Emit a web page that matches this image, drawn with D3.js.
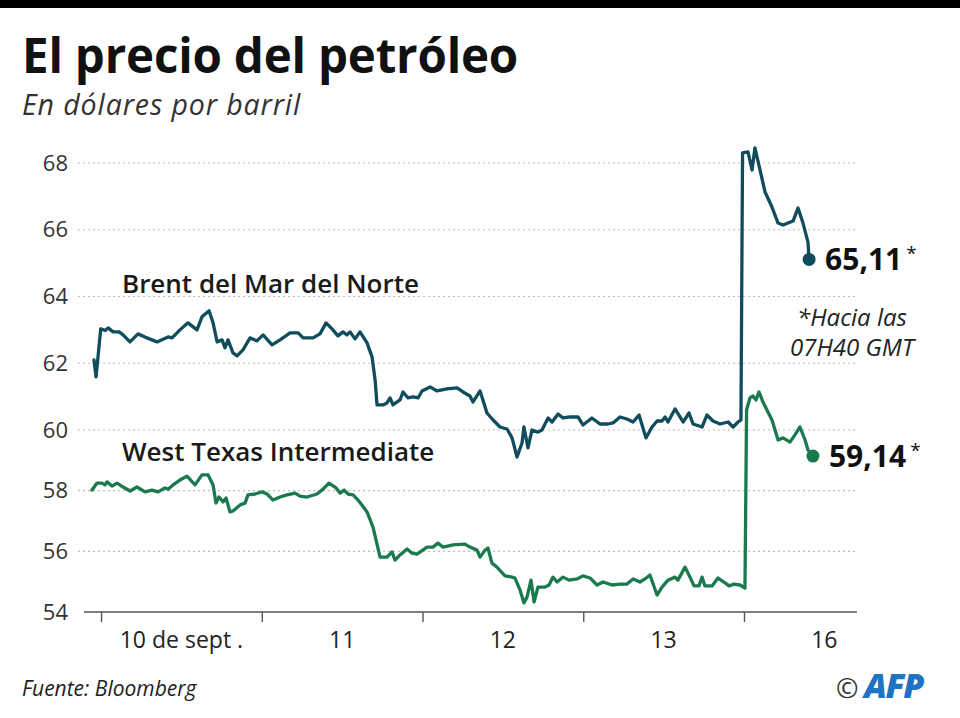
<!DOCTYPE html>
<html>
<head>
<meta charset="utf-8">
<script src="https://cdn.jsdelivr.net/npm/d3@7"></script>
<style>
  html, body { margin: 0; padding: 0; background: #fff; }
  svg { display: block; }
</style>
</head>
<body>
<svg id="chart" width="960" height="718"></svg>
<script>
// ---- Data (x in trading days from 10 Sept 00h; 16 Sept follows 13 Sept) ----
const dayTicks = [0, 1, 2, 3, 4];
const dayLabelPos = [0.5, 1.5, 2.5, 3.5, 4.5];
const dayLabels = ["10 de sept .", "11", "12", "13", "16"];
const yTicks = [54, 56, 58, 60, 62, 64, 66, 68];

const brentT = [-0.044,-0.031,-0.002,0.025,0.044,0.075,0.112,0.137,0.180,0.230,0.286,0.348,0.417,0.442,0.491,0.541,0.597,0.628,0.672,0.697,0.722,0.753,0.771,0.790,0.821,0.846,0.883,0.927,0.970,1.008,1.064,1.114,1.176,1.226,1.257,1.319,1.362,1.400,1.437,1.474,1.505,1.530,1.549,1.580,1.611,1.655,1.686,1.705,1.717,1.754,1.779,1.798,1.816,1.860,1.879,1.910,1.941,1.972,1.997,2.047,2.090,2.152,2.215,2.252,2.295,2.314,2.358,2.401,2.439,2.482,2.526,2.557,2.588,2.619,2.631,2.656,2.681,2.718,2.743,2.781,2.806,2.843,2.874,2.918,2.967,2.998,3.054,3.104,3.154,3.185,3.229,3.272,3.310,3.347,3.390,3.428,3.459,3.490,3.509,3.527,3.571,3.602,3.621,3.658,3.683,3.739,3.770,3.807,3.851,3.901,3.932,3.963,3.981,3.991,4.025,4.050,4.068,4.100,4.131,4.174,4.212,4.243,4.274,4.305,4.336,4.367,4.398,4.405];
const brentV = [62.10,61.59,63.03,62.98,63.06,62.94,62.94,62.85,62.64,62.88,62.76,62.64,62.79,62.76,63.00,63.21,63.00,63.39,63.57,63.21,62.64,62.70,62.46,62.70,62.31,62.22,62.40,62.76,62.67,62.85,62.55,62.70,62.91,62.91,62.76,62.76,62.88,63.21,63.03,62.82,62.94,62.85,62.94,62.73,62.94,62.61,62.19,61.50,60.75,60.75,60.81,60.96,60.75,60.90,61.14,60.96,60.99,60.96,61.17,61.29,61.17,61.23,61.26,61.14,61.02,60.84,61.17,60.51,60.30,60.09,60.03,59.74,59.11,59.57,60.09,59.41,60.00,59.93,60.00,60.36,60.24,60.48,60.36,60.39,60.39,60.15,60.36,60.18,60.18,60.21,60.39,60.33,60.24,60.45,59.74,60.09,60.27,60.27,60.39,60.24,60.63,60.39,60.24,60.51,60.18,60.09,60.45,60.27,60.18,60.24,60.09,60.24,60.30,68.30,68.33,67.79,68.45,67.79,67.13,66.68,66.20,66.14,66.20,66.26,66.65,66.20,65.63,65.11];

const wtiT = [-0.056,-0.025,0.006,0.025,0.037,0.068,0.100,0.137,0.180,0.224,0.274,0.317,0.355,0.398,0.417,0.448,0.491,0.535,0.585,0.628,0.666,0.697,0.715,0.734,0.759,0.778,0.802,0.821,0.865,0.896,0.914,0.958,1.002,1.033,1.070,1.114,1.157,1.207,1.238,1.281,1.344,1.381,1.418,1.462,1.487,1.512,1.537,1.568,1.599,1.655,1.692,1.736,1.779,1.810,1.829,1.860,1.904,1.935,1.966,2.028,2.065,2.096,2.128,2.190,2.264,2.295,2.339,2.358,2.389,2.407,2.432,2.463,2.513,2.557,2.575,2.607,2.631,2.650,2.675,2.694,2.718,2.762,2.787,2.812,2.837,2.874,2.911,2.961,2.998,3.042,3.086,3.123,3.179,3.229,3.272,3.310,3.353,3.384,3.415,3.459,3.490,3.527,3.571,3.589,3.633,3.664,3.689,3.720,3.739,3.757,3.801,3.838,3.882,3.907,3.938,3.975,4.006,4.016,4.037,4.056,4.075,4.093,4.118,4.174,4.212,4.243,4.286,4.317,4.348,4.380,4.398,4.429];
const wtiV = [58.02,58.25,58.25,58.19,58.29,58.15,58.25,58.12,57.99,58.12,57.96,58.02,57.96,58.09,58.05,58.19,58.35,58.48,58.19,58.52,58.52,58.19,57.59,57.79,57.63,57.76,57.30,57.33,57.53,57.59,57.86,57.89,57.96,57.89,57.69,57.79,57.86,57.92,57.82,57.79,57.89,58.05,58.25,58.09,57.92,58.02,57.89,57.86,57.69,57.30,56.80,55.81,55.81,55.98,55.71,55.88,56.08,55.94,55.91,56.14,56.14,56.27,56.14,56.21,56.24,56.14,56.04,55.81,56.04,56.11,55.61,55.48,55.19,55.15,55.12,54.72,54.30,54.49,55.05,54.33,54.82,54.82,54.89,55.15,54.99,55.15,55.05,55.09,55.19,55.12,54.89,54.99,54.89,54.92,54.92,55.09,54.99,55.09,55.22,54.56,54.82,55.05,55.15,55.05,55.48,55.15,54.86,54.86,55.15,54.86,54.86,55.12,54.96,54.86,54.92,54.89,54.79,60.60,60.96,61.02,60.90,61.14,60.84,60.30,59.67,59.74,59.60,59.84,60.09,59.67,59.34,59.14];

const seriesNames = ["Brent del Mar del Norte", "West Texas Intermediate"];
const lastLabels = ["65,11", "59,14"];

// ---- Drawing ----
const svg = d3.select("#chart");
const BRENT = "#0f4c5c", WTI = "#1a7a4e";
const FONT = "'Open Sans', 'Noto Sans', sans-serif";

const x = d3.scaleLinear().domain([-0.106, 4.703]).range([84, 857]);
const y = d3.scaleLinear().domain([54, 60, 68]).range([612, 430, 163]);

// top black band
svg.append("rect").attr("x", 0).attr("y", 0).attr("width", 960).attr("height", 8).attr("fill", "#000");

// title & subtitle
svg.append("text").attr("x", 22).attr("y", 73)
  .attr("font-family", FONT).attr("font-weight", 700).attr("font-size", 47.5)
  .attr("fill", "#111").attr("letter-spacing", -0.2).text("El precio del petróleo");
svg.append("text").attr("x", 22).attr("y", 115)
  .attr("font-family", FONT).attr("font-style", "italic").attr("font-size", 28.5)
  .attr("fill", "#333").attr("letter-spacing", 0.9).text("En dólares por barril");

// gridlines
svg.append("g").selectAll("line").data(yTicks.filter(d => d > 54)).join("line")
  .attr("x1", 78).attr("x2", 855)
  .attr("y1", d => y(d)).attr("y2", d => y(d))
  .attr("stroke", "#bdbdbd").attr("stroke-width", 1.2).attr("stroke-dasharray", "2,3");

// y axis labels
const yAxis = d3.axisLeft(y).tickValues(yTicks).tickSize(0).tickPadding(0).tickFormat(d3.format("d"));
const gy = svg.append("g").attr("transform", "translate(68,0)").call(yAxis);
gy.select(".domain").remove();
gy.selectAll("text").attr("font-family", FONT).attr("font-size", 22).attr("fill", "#333");

// x axis
const xAxis = d3.axisBottom(x).tickValues(dayTicks).tickSize(10).tickFormat("");
const gx = svg.append("g").attr("transform", "translate(0,612)").call(xAxis);
gx.select(".domain").attr("stroke", "#555").attr("stroke-width", 1.6).attr("d", `M${x.range()[0]},0H${x.range()[1]}`);
gx.selectAll(".tick line").attr("stroke", "#555").attr("stroke-width", 1.4);
svg.append("g").selectAll("text").data(dayLabels).join("text")
  .attr("x", (d, i) => x(dayLabelPos[i])).attr("y", 648)
  .attr("text-anchor", "middle").attr("font-family", FONT).attr("font-size", 23)
  .attr("fill", "#222").text(d => d);

// lines
const line = d3.line().x(d => x(d[0])).y(d => y(d[1]));
const brent = brentT.map((t, i) => [t, brentV[i]]);
const wti = wtiT.map((t, i) => [t, wtiV[i]]);
[[brent, BRENT], [wti, WTI]].forEach(([data, col]) => {
  svg.append("path").datum(data).attr("d", line)
    .attr("fill", "none").attr("stroke", col).attr("stroke-width", 3.3)
    .attr("stroke-linejoin", "round").attr("stroke-linecap", "round");
  const last = data[data.length - 1];
  svg.append("circle").attr("cx", x(last[0])).attr("cy", y(last[1])).attr("r", 6.5).attr("fill", col);
});

// series labels
svg.append("text").attr("x", 122).attr("y", 293)
  .attr("font-family", FONT).attr("font-weight", 600).attr("font-size", 26)
  .attr("fill", "#1a1a1a").text(seriesNames[0]);
svg.append("text").attr("x", 122).attr("y", 461)
  .attr("font-family", FONT).attr("font-weight", 600).attr("font-size", 26)
  .attr("fill", "#1a1a1a").text(seriesNames[1]);

// end labels
const endVals = [brentV[brentV.length - 1], wtiV[wtiV.length - 1]];
const endT = [brentT[brentT.length - 1], wtiT[wtiT.length - 1]];
endVals.forEach((v, i) => {
  const t = svg.append("text").attr("x", x(endT[i]) + 16).attr("y", y(v) + 11)
    .attr("font-family", FONT).attr("font-weight", 700).attr("font-size", 30).attr("fill", "#111");
  t.append("tspan").text(lastLabels[i]);
  t.append("tspan").attr("dx", 4).attr("dy", -10).attr("font-size", 19).attr("font-weight", 400).text("*");
});

// note
svg.append("text").attr("x", 852).attr("y", 326).attr("text-anchor", "middle")
  .attr("font-family", FONT).attr("font-style", "italic").attr("font-size", 24).attr("fill", "#222")
  .text("*Hacia las");
svg.append("text").attr("x", 852).attr("y", 356).attr("text-anchor", "middle")
  .attr("font-family", FONT).attr("font-style", "italic").attr("font-size", 24).attr("fill", "#222")
  .text("07H40 GMT");

// footer
svg.append("text").attr("x", 22).attr("y", 696)
  .attr("font-family", FONT).attr("font-style", "italic").attr("font-size", 21).attr("fill", "#222")
  .text("Fuente: Bloomberg");
svg.append("text").attr("x", 836).attr("y", 698)
  .attr("font-family", FONT).attr("font-size", 27).attr("fill", "#333").text("©");
svg.append("text").attr("x", 864).attr("y", 698)
  .attr("font-family", FONT).attr("font-weight", 800).attr("font-style", "italic").attr("font-size", 34)
  .attr("fill", "#1f72c4").attr("letter-spacing", -1.5).text("AFP");
</script>
</body>
</html>
